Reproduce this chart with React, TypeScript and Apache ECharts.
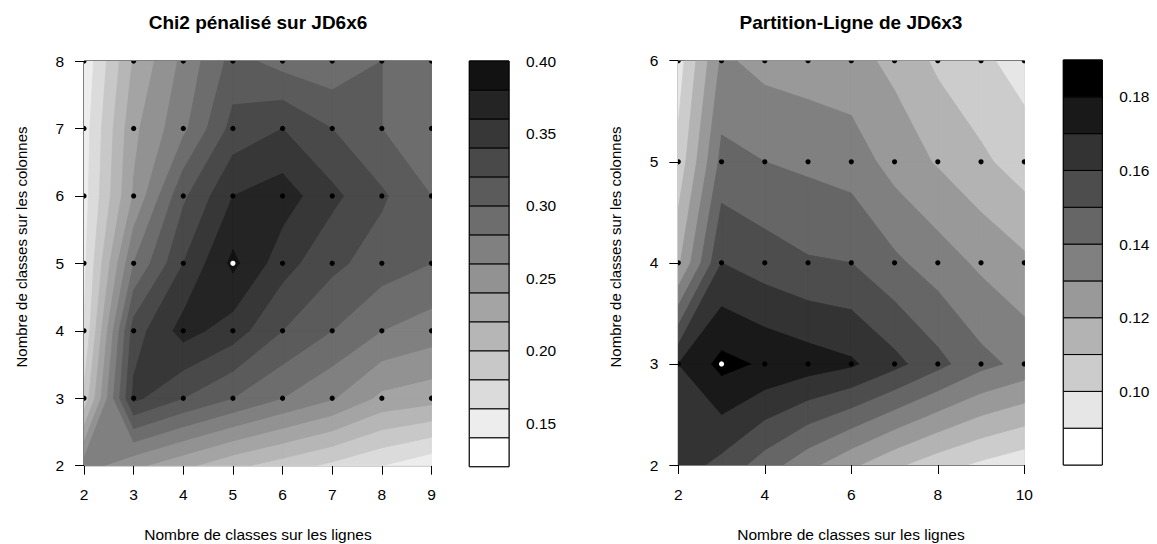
import React, { useEffect, useRef } from "react";
import * as echarts from "echarts";

// ---------- Data: left panel (Chi2 pénalisé sur JD6x6) ----------
const leftX = [2, 3, 4, 5, 6, 7, 8, 9];
const leftY = [2, 3, 4, 5, 6, 7, 8];
// rows: y = 2 .. 8 ; columns: x = 2 .. 9
const leftZy2 = [0.270, 0.245, 0.225, 0.205, 0.190, 0.175, 0.160, 0.145];
const leftZy3 = [0.185, 0.345, 0.320, 0.300, 0.280, 0.262, 0.235, 0.228];
const leftZy4 = [0.160, 0.330, 0.368, 0.350, 0.320, 0.300, 0.280, 0.270];
const leftZy5 = [0.155, 0.280, 0.340, 0.385, 0.348, 0.325, 0.310, 0.300];
const leftZy6 = [0.152, 0.242, 0.316, 0.360, 0.370, 0.345, 0.323, 0.300];
const leftZy7 = [0.150, 0.235, 0.275, 0.327, 0.340, 0.320, 0.300, 0.290];
const leftZy8 = [0.145, 0.222, 0.265, 0.307, 0.292, 0.285, 0.300, 0.295];
const leftZ = [leftZy2, leftZy3, leftZy4, leftZy5, leftZy6, leftZy7, leftZy8];
const leftLevels = [0.12, 0.14, 0.16, 0.18, 0.20, 0.22, 0.24, 0.26, 0.28, 0.30, 0.32, 0.34, 0.36, 0.38, 0.40];
const leftKeyTicks = [0.15, 0.20, 0.25, 0.30, 0.35, 0.40];
const leftPointsY = [3, 4, 5, 6, 7, 8];
const leftMax = [5, 5];

// ---------- Data: right panel (Partition-Ligne de JD6x3) ----------
const rightX = [2, 3, 4, 5, 6, 7, 8, 9, 10];
const rightY = [2, 3, 4, 5, 6];
const rightZy2 = [0.165, 0.157, 0.145, 0.133, 0.122, 0.112, 0.104, 0.098, 0.093];
const rightZy3 = [0.170, 0.183, 0.1785, 0.175, 0.1715, 0.163, 0.153, 0.143, 0.137];
const rightZy4 = [0.118, 0.160, 0.155, 0.151, 0.150, 0.142, 0.135, 0.128, 0.122];
const rightZy5 = [0.103, 0.143, 0.140, 0.138, 0.1355, 0.126, 0.119, 0.112, 0.105];
const rightZy6 = [0.095, 0.1317, 0.1268, 0.125, 0.1235, 0.1175, 0.108, 0.102, 0.096];
const rightZ = [rightZy2, rightZy3, rightZy4, rightZy5, rightZy6];
const rightLevels = [0.08, 0.09, 0.10, 0.11, 0.12, 0.13, 0.14, 0.15, 0.16, 0.17, 0.18, 0.19];
const rightKeyTicks = [0.10, 0.12, 0.14, 0.16, 0.18];
const rightPointsY = [3, 4, 5, 6];
const rightMax = [3, 3];

const FONT = '"Liberation Sans", Arial, sans-serif';

function grayPalette(n: number): string[] {
  const out: string[] = [];
  for (let k = 0; k < n; k++) {
    const g = Math.round(255 * (1 - k / n));
    const h = g.toString(16).padStart(2, "0");
    out.push("#" + h + h + h);
  }
  return out;
}
function grayPaletteToBlack(n: number): string[] {
  const out: string[] = [];
  for (let k = 0; k < n; k++) {
    const g = Math.round(255 * (1 - k / (n - 1)));
    const h = g.toString(16).padStart(2, "0");
    out.push("#" + h + h + h);
  }
  return out;
}

const leftColors = grayPalette(leftLevels.length - 1);
const rightColors = grayPaletteToBlack(rightLevels.length - 1);

function contourRender(xs: number[], ys: number[], z: number[][], levels: number[], colors: string[]) {
  return (params: any, api: any) => {
    const k = params.dataIndex;
    const L = levels[k];
    const fill = colors[k];
    const children: any[] = [];
    for (let j = 0; j < ys.length - 1; j++) {
      for (let i = 0; i < xs.length - 1; i++) {
        const c = [
          [xs[i], ys[j], z[j][i]],
          [xs[i + 1], ys[j], z[j][i + 1]],
          [xs[i + 1], ys[j + 1], z[j + 1][i + 1]],
          [xs[i], ys[j + 1], z[j + 1][i]],
        ];
        const pts: number[][] = [];
        for (let e = 0; e < 4; e++) {
          const a = c[e];
          const b = c[(e + 1) % 4];
          const ina = a[2] >= L;
          const inb = b[2] >= L;
          if (ina) pts.push(api.coord([a[0], a[1]]));
          if (ina !== inb) {
            const t = (L - a[2]) / (b[2] - a[2]);
            pts.push(api.coord([a[0] + t * (b[0] - a[0]), a[1] + t * (b[1] - a[1])]));
          }
        }
        if (pts.length >= 3) {
          children.push({
            type: "polygon",
            shape: { points: pts },
            style: { fill, stroke: fill, lineWidth: 0.8 },
            silent: true,
          });
        }
      }
    }
    return { type: "group", children };
  };
}

function keyRender(levels: number[], colors: string[]) {
  return (params: any, api: any) => {
    const k = params.dataIndex;
    const p0 = api.coord([0, levels[k]]);
    const p1 = api.coord([1, levels[k + 1]]);
    return {
      type: "rect",
      shape: { x: p0[0], y: p1[1], width: p1[0] - p0[0], height: p0[1] - p1[1] },
      style: { fill: colors[k], stroke: "#000", lineWidth: 1 },
    };
  };
}

function dotRender(color: string) {
  return (params: any, api: any) => {
    const p = api.coord([api.value(0), api.value(1)]);
    return { type: "circle", shape: { cx: p[0], cy: p[1], r: 2.6 }, style: { fill: color } };
  };
}

function pointsOf(xs: number[], ys: number[], max: number[]) {
  const pts: number[][] = [];
  for (const y of ys) for (const x of xs) if (!(x === max[0] && y === max[1])) pts.push([x, y]);
  return pts;
}

const axisTickStyle = { show: true, inside: false, length: 9, lineStyle: { color: "#000", width: 1 } };
const labelStyle = { color: "#000", fontSize: 15.5, fontFamily: FONT };

export default function App() {
  const ref = useRef<HTMLDivElement>(null);
  useEffect(() => {
    document.body.style.margin = "0";
    if (!ref.current) return;
    const chart = echarts.init(ref.current, undefined, { renderer: "svg" });

    const grids = [
      { left: 84, top: 61, width: 347.5, height: 404.7 },
      { left: 469.3, top: 61, width: 39.7, height: 405.7 },
      { left: 678.3, top: 60.7, width: 346, height: 404.3 },
      { left: 1063.3, top: 60, width: 39, height: 405 },
    ].map((g) => ({ ...g, show: true, borderColor: "#000", borderWidth: 1, backgroundColor: "transparent", containLabel: false, outerBoundsMode: "none" }));

    const mainX = (min: number, max: number, interval: number, gridIndex: number) => ({
      type: "value", gridIndex, min, max, interval,
      axisLine: { show: false }, axisTick: axisTickStyle, splitLine: { show: false },
      axisLabel: { ...labelStyle, margin: 21 },
    });
    const mainY = (min: number, max: number, interval: number, gridIndex: number) => ({
      type: "value", gridIndex, min, max, interval,
      axisLine: { show: false }, axisTick: axisTickStyle, splitLine: { show: false },
      axisLabel: { ...labelStyle, margin: 20 },
    });
    const keyX = (gridIndex: number) => ({
      type: "value", gridIndex, min: 0, max: 1, show: false,
    });
    const keyY = (gridIndex: number, min: number, max: number, ticks: number[]) => ({
      type: "value", gridIndex, min, max, position: "right",
      axisLine: { show: false }, splitLine: { show: false },
      axisTick: { ...axisTickStyle, customValues: ticks },
      axisLabel: { ...labelStyle, margin: 17, customValues: ticks, formatter: (v: number) => v.toFixed(2) },
    });

    const text = (t: string, x: number, y: number, size: number, bold = false, rot = 0) => ({
      type: "text", x, y, rotation: rot, silent: true,
      style: { text: t, fill: "#000", fontSize: size, fontFamily: FONT, fontWeight: bold ? "bold" : "normal", align: "center", verticalAlign: "middle" },
    });

    const dots = (xi: number, pts: number[][], color: string, z: number) => ({
      type: "custom", xAxisIndex: xi, yAxisIndex: xi, clip: true, silent: true,
      encode: { x: 0, y: 1 }, data: pts, renderItem: dotRender(color), z,
    });

    chart.setOption({
      animation: false,
      backgroundColor: "#ffffff",
      grid: grids,
      xAxis: [mainX(2, 9, 1, 0), keyX(1), mainX(2, 10, 2, 2), keyX(3)],
      yAxis: [
        mainY(2, 8, 1, 0),
        keyY(1, leftLevels[0], leftLevels[leftLevels.length - 1], leftKeyTicks),
        mainY(2, 6, 1, 2),
        keyY(3, rightLevels[0], rightLevels[rightLevels.length - 1], rightKeyTicks),
      ],
      series: [
        {
          type: "custom", xAxisIndex: 0, yAxisIndex: 0, clip: true, silent: true,
          encode: { x: 0, y: 1 },
          data: leftLevels.slice(0, -1).map(() => [leftX[0], leftY[0]]),
          renderItem: contourRender(leftX, leftY, leftZ, leftLevels, leftColors),
          z: 1,
        },
        dots(0, pointsOf(leftX, leftPointsY, leftMax), "#000", 3),
        dots(0, [leftMax], "#fff", 4),
        {
          type: "custom", xAxisIndex: 1, yAxisIndex: 1, clip: false, silent: true,
          encode: { x: 0, y: 1 },
          data: leftLevels.slice(0, -1).map((v) => [0, v]),
          renderItem: keyRender(leftLevels, leftColors),
        },
        {
          type: "custom", xAxisIndex: 2, yAxisIndex: 2, clip: true, silent: true,
          encode: { x: 0, y: 1 },
          data: rightLevels.slice(0, -1).map(() => [rightX[0], rightY[0]]),
          renderItem: contourRender(rightX, rightY, rightZ, rightLevels, rightColors),
          z: 1,
        },
        dots(2, pointsOf(rightX, rightPointsY, rightMax), "#000", 3),
        dots(2, [rightMax], "#fff", 4),
        {
          type: "custom", xAxisIndex: 3, yAxisIndex: 3, clip: false, silent: true,
          encode: { x: 0, y: 1 },
          data: rightLevels.slice(0, -1).map((v) => [0, v]),
          renderItem: keyRender(rightLevels, rightColors),
        },
      ],
      graphic: [
        text("Chi2 pénalisé sur JD6x6", 258, 22, 19, true),
        text("Partition-Ligne de JD6x3", 851, 22, 19, true),
        text("Nombre de classes sur les lignes", 258, 534, 15.5),
        text("Nombre de classes sur les lignes", 851, 534, 15.5),
        text("Nombre de classes sur les colonnes", 21, 247, 15, false, Math.PI / 2),
        text("Nombre de classes sur les colonnes", 615, 247, 15, false, Math.PI / 2),
      ],
    });
    return () => chart.dispose();
  }, []);
  return <div ref={ref} style={{ width: 1157, height: 544 }} />;
}
